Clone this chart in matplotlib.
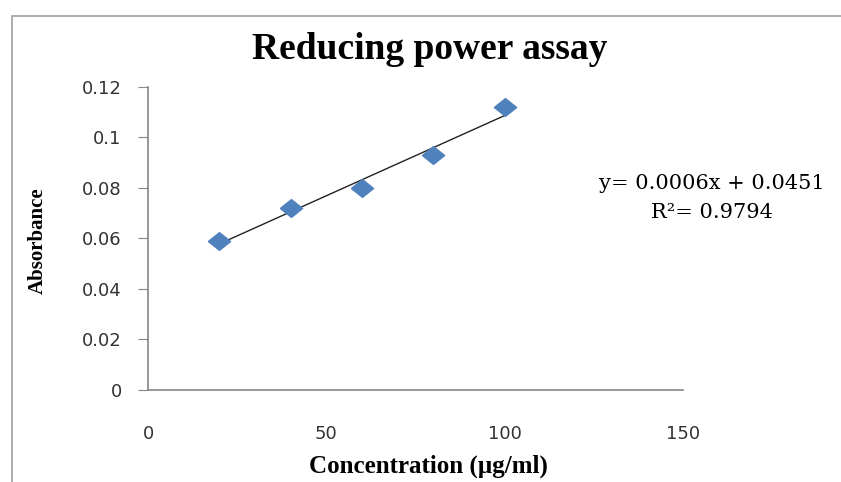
import numpy as np
import matplotlib.pyplot as plt
from matplotlib.patches import Rectangle

# data
concentracion = [20, 40, 60, 80, 100]
absorbancia = [0.059, 0.072, 0.080, 0.093, 0.112]
xticks = [0, 50, 100, 150]
yticks = [0, 0.02, 0.04, 0.06, 0.08, 0.1, 0.12]
ytick_labels = ["0", "0.02", "0.04", "0.06", "0.08", "0.1", "0.12"]

plt.rcParams["font.family"] = "DejaVu Sans"

fig = plt.figure(figsize=(8.41, 4.82), dpi=100)
ax = fig.add_axes([0.176, 0.191, 0.636, 0.629])

# outer chart frame (cut off at right and bottom like the original)
fig.patches.append(Rectangle((0.0143, -0.1), 1.2, 1.067, transform=fig.transFigure,
                             fill=False, edgecolor="#a0a0a0", linewidth=1.2))

# diamond a bit wider than tall, like the excel marker
rombo = [(-1, 0), (0, 0.8), (1, 0), (0, -0.8), (-1, 0)]

# linear trendline
pendiente, intercepto = np.polyfit(concentracion, absorbancia, 1)
xs = np.array([concentracion[0], concentracion[-1]])
ax.plot(xs, pendiente * xs + intercepto, color="#222222", linewidth=1.0, zorder=2)
ax.plot(concentracion, absorbancia, linestyle="none", marker=rombo, markersize=16,
        color="#4f81bd", zorder=3)

ax.set_xlim(0, 150)
ax.set_ylim(0, 0.12)
ax.set_xticks(xticks)
ax.set_yticks(yticks)
ax.set_yticklabels(ytick_labels)
for s in ["top", "right"]:
    ax.spines[s].set_visible(False)
for s in ["left", "bottom"]:
    ax.spines[s].set_color("#868686")
    ax.spines[s].set_linewidth(1.2)
ax.tick_params(axis="y", length=7, color="#868686", labelsize=13, pad=12, labelcolor="#333333")
ax.tick_params(axis="x", length=0, labelsize=13, pad=25, labelcolor="#333333")

fig.text(0.511, 0.897, "Reducing power assay", ha="center", va="center",
         fontsize=27, fontweight="bold", family="Liberation Serif")
fig.text(0.045, 0.5, "Absorbance", ha="center", va="center", rotation=90,
         fontsize=15, fontweight="bold", family="Liberation Serif")
fig.text(0.509, 0.033, "Concentration (µg/ml)", ha="center", va="center",
         fontsize=18, fontweight="bold", family="Liberation Serif")

fig.text(0.846, 0.62, "y= 0.0006x + 0.0451", ha="center", va="center",
         fontsize=15, family="DejaVu Serif")
fig.text(0.846, 0.56, "R²= 0.9794", ha="center", va="center",
         fontsize=15, family="DejaVu Serif")

fig.savefig("out.png", dpi=100)
